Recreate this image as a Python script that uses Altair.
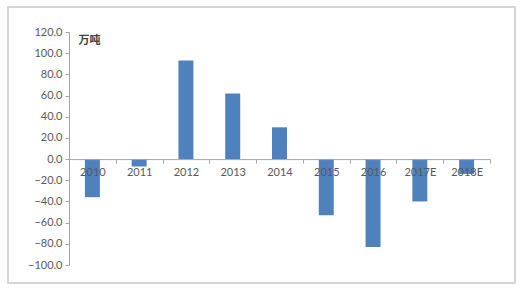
import altair as alt
import pandas as pd

years = ["2010", "2011", "2012", "2013", "2014", "2015", "2016", "2017E", "2018E"]
values = [-36, -7, 93, 62, 30, -53, -83, -40, -14]
y_ticks = [-100, -80, -60, -40, -20, 0, 20, 40, 60, 80, 100, 120]
unit_label = "万吨"

df = pd.DataFrame({"year": years, "value": values})

W, H = 421, 233
PAD_L, PAD_T = 69, 32

bars = alt.Chart(df).mark_bar(color="#4F81BD", width={"band": 0.32}).encode(
    x=alt.X("year:N", sort=years,
            scale=alt.Scale(paddingInner=0, paddingOuter=0),
            axis=alt.Axis(title=None, orient="bottom", offset=-(H * 100 / 220),
                          tickBand="extent", tickSize=4, tickColor="#a6a6a6",
                          domainColor="#a6a6a6", labelAngle=0, labelColor="#595959",
                          labelFont="Lato", labelFontSize=11, labelPadding=3,
                          zindex=1, grid=False)),
    y=alt.Y("value:Q", scale=alt.Scale(domain=[-100, 120], nice=False, zero=False),
            axis=alt.Axis(values=y_ticks, format=".1f", title=unit_label,
                          titleAngle=0, titleX=9, titleY=8, titleAlign="left",
                          titleBaseline="middle", titleFont="Noto Sans CJK SC",
                          titleFontSize=11, titleFontWeight="bold", titleColor="#404040",
                          tickSize=4, tickColor="#a6a6a6", domainColor="#a6a6a6",
                          labelColor="#595959", labelFont="Lato", labelFontSize=11,
                          labelPadding=3, grid=False)),
)

frame = alt.Chart(alt.Data(values=[{}])).mark_rect(
    fill=None, stroke="#c8c8c8", strokeWidth=1.5
).encode(
    x=alt.value(8 - PAD_L), x2=alt.value(515 - PAD_L),
    y=alt.value(7 - PAD_T), y2=alt.value(283 - PAD_T),
)

chart = alt.layer(frame, bars).properties(
    width=W, height=H,
    autosize=alt.AutoSizeParams(type="none"),
    padding={"left": PAD_L, "top": PAD_T, "right": 520 - PAD_L - W, "bottom": 290 - PAD_T - H},
    background="white",
).configure_view(stroke=None)

chart.save("out.html", embed_options={"renderer": "svg", "actions": False})
